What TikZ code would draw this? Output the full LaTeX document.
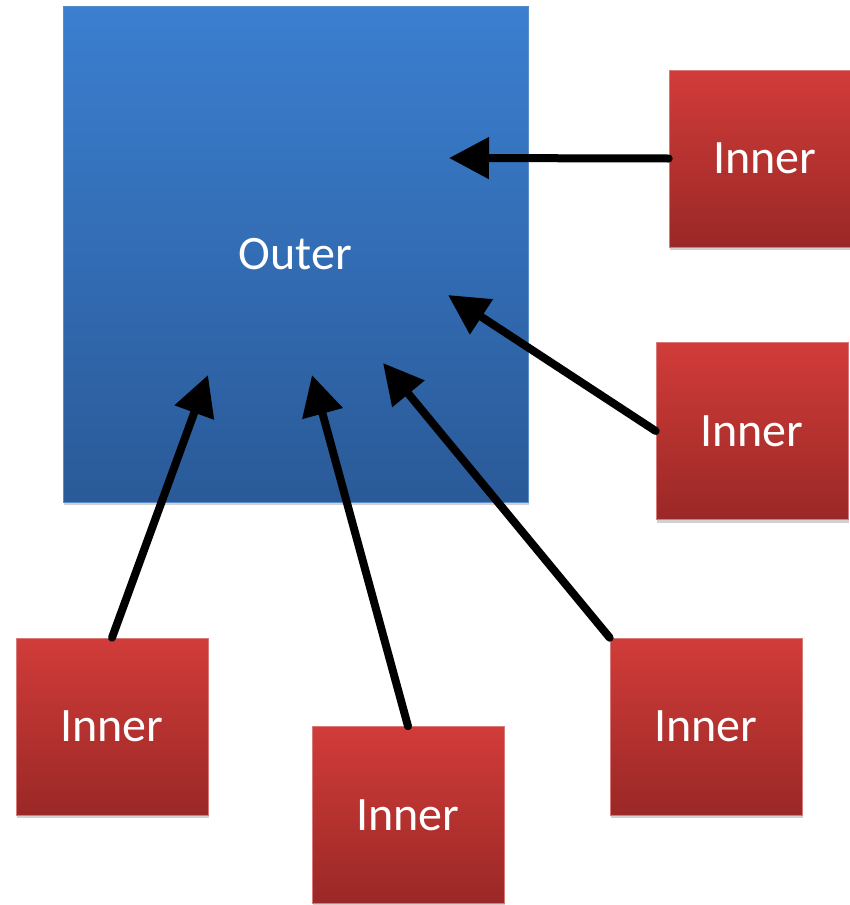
\documentclass[tikz,border=0pt]{standalone}
\usepackage{fontspec}
\setmainfont{Carlito}
\usetikzlibrary{arrows.meta,shadows}
\definecolor{bluetop}{HTML}{3B7FD0}
\definecolor{bluebot}{HTML}{2A5A98}
\definecolor{bluebd}{HTML}{5A8CC8}
\definecolor{redtop}{HTML}{D13C39}
\definecolor{redbot}{HTML}{9A2826}
\definecolor{redbd}{HTML}{D87A78}
\begin{document}
\begin{tikzpicture}[x=1pt,y=-1pt,
  outerbox/.style={rectangle, minimum width=465pt, minimum height=496pt, inner sep=0pt,
    top color=bluetop, bottom color=bluebot, draw=bluebd, line width=0.6pt,
    drop shadow={shadow xshift=1pt, shadow yshift=-3pt, opacity=0.18, fill=black},
    text=white, font=\fontsize{48}{58}\selectfont},
  innerbox/.style={rectangle, minimum width=192pt, minimum height=177pt, inner sep=0pt,
    top color=redtop, bottom color=redbot, draw=redbd, line width=0.6pt,
    drop shadow={shadow xshift=1pt, shadow yshift=-3pt, opacity=0.18, fill=black},
    text=white, font=\fontsize{48}{58}\selectfont},
  arr/.style={line width=8pt, line cap=round, -{Triangle[length=40pt,width=40pt]}}]
\useasboundingbox (0,0) rectangle (849,905);
\node[outerbox] (outer) at (295.5,254) {\raisebox{-2pt}{Outer}};
\node[innerbox] (b1) at (765,158.5) {Inner};
\node[innerbox] (b2) at (752,431) {Inner};
\node[innerbox] (b3) at (112,726.5) {Inner};
\node[innerbox] (b4) at (408,815) {Inner};
\node[innerbox] (b5) at (706,726.5) {Inner};
\coordinate (t1) at (449,158);
\coordinate (t2) at (448,295);
\coordinate (t3) at (208,375);
\coordinate (t4) at (312,375);
\coordinate (t5) at (383,363);
\draw[arr] (b1.west) -- (t1);
\draw[arr] (b2.west) -- (t2);
\draw[arr] (b3.north) -- (t3);
\draw[arr] (b4.north) -- (t4);
\draw[arr] (b5.north west) -- (t5);
\end{tikzpicture}
\end{document}
